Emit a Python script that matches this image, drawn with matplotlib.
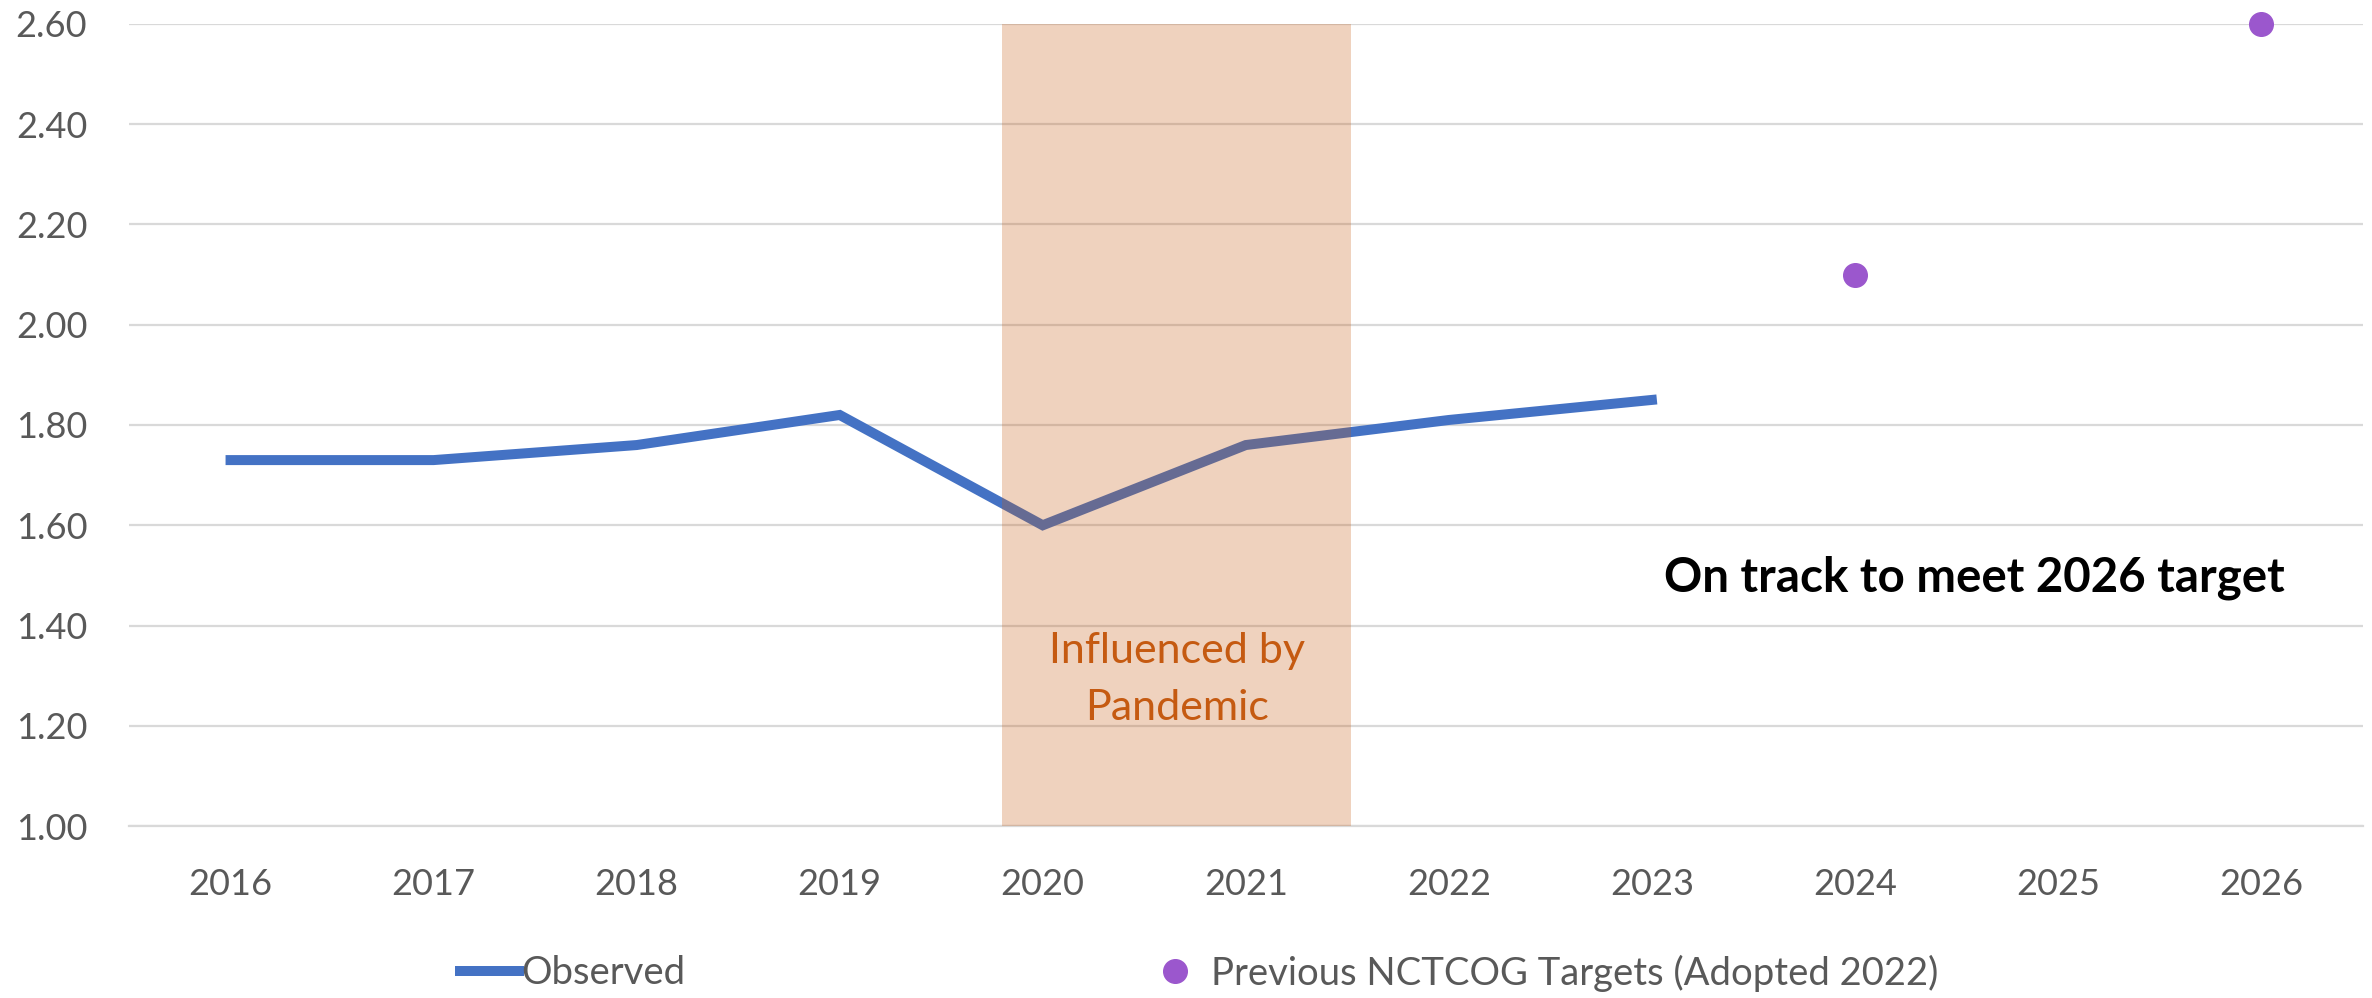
import matplotlib
matplotlib.use("Agg")
from matplotlib import pyplot as plt
from matplotlib.lines import Line2D
from matplotlib.patches import Rectangle

years = ['2016', '2017', '2018', '2019', '2020', '2021', '2022', '2023', '2024', '2025', '2026']
observed = [1.73, 1.73, 1.76, 1.82, 1.60, 1.76, 1.81, 1.85]
target_years = ['2024', '2026']
targets = [2.10, 2.60]
yticks = [1.00, 1.20, 1.40, 1.60, 1.80, 2.00, 2.20, 2.40, 2.60]

plt.rcParams['font.family'] = ['Lato', 'DejaVu Sans']

blue = '#4472C4'
purple = '#9B57CD'
orange = '#C55A11'
grey = '#595959'

fig = plt.figure(figsize=(23.72, 9.98), dpi=100)
ax = fig.add_axes([0.0544, 0.1723, 0.9416, 0.8037])

xpos = {y: i for i, y in enumerate(years)}

ax.plot([xpos[y] for y in years[:len(observed)]], observed, color=blue, linewidth=7.2,
        solid_joinstyle='miter', zorder=3)
ax.plot([xpos[y] for y in target_years], targets, linestyle='none', marker='o',
        markersize=17, color=purple, clip_on=False, zorder=4)

# pandemic shading, drawn over the line
ax.add_patch(Rectangle((3.80, 1.0), 1.72, 1.6, facecolor=orange, alpha=0.27,
                       edgecolor='none', zorder=5))
ax.text(4.66, 1.35, 'Influenced by', color=orange, fontsize=31, ha='center', va='center', zorder=6)
ax.text(4.66, 1.235, 'Pandemic', color=orange, fontsize=31, ha='center', va='center', zorder=6)

ax.text(8.59, 1.495, 'On track to meet 2026 target', fontsize=34.2, fontweight='bold',
        color='black', ha='center', va='center')

ax.set_xlim(-0.5, 10.5)
ax.set_ylim(1.0, 2.6)
ax.set_xticks(range(len(years)))
ax.set_xticklabels(years)
ax.set_yticks(yticks)
ax.set_yticklabels(['%.2f' % v for v in yticks])
ax.tick_params(axis='both', length=0, labelsize=26, labelcolor=grey)
ax.tick_params(axis='x', pad=30)
ax.tick_params(axis='y', pad=30)
ax.grid(axis='y', color='#D9D9D9', linewidth=1.6, zorder=0)
ax.set_axisbelow(True)
for s in ['top', 'right', 'left']:
    ax.spines[s].set_visible(False)
ax.spines['bottom'].set_color('#D9D9D9')
ax.spines['bottom'].set_linewidth(1.6)

h1 = Line2D([], [], color=blue, linewidth=7.2)
h2 = Line2D([], [], color=purple, marker='o', linestyle='none', markersize=17)
leg1 = fig.legend([h1], ['Observed'], loc='center left', bbox_to_anchor=(460 / 2372, 1 - 973 / 998),
                  frameon=False, fontsize=27.5, handlelength=1.55, handletextpad=0.05, borderpad=0,
                  borderaxespad=0, labelcolor=grey)
leg2 = fig.legend([h2], ['Previous NCTCOG Targets (Adopted 2022)'], loc='center left',
                  bbox_to_anchor=(1150 / 2372, 1 - 973 / 998), frameon=False, fontsize=27.5,
                  handlelength=1.3, handletextpad=0.3, borderpad=0, borderaxespad=0, labelcolor=grey)

fig.savefig('out.png', dpi=100)
